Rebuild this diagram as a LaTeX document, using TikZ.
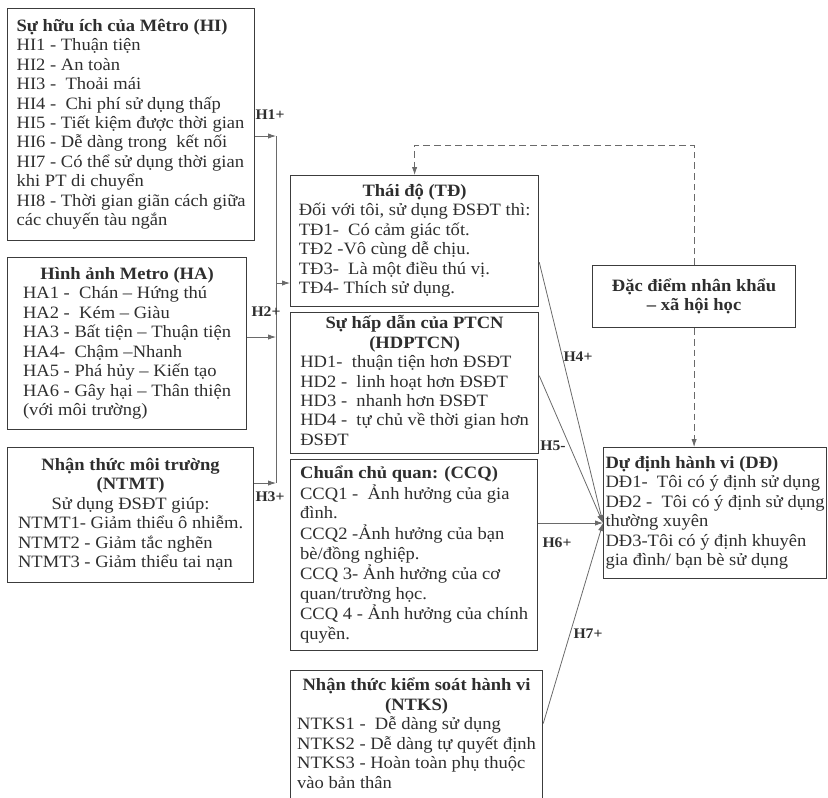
\documentclass[tikz,border=0pt]{standalone}
\usepackage{fontspec}
\setmainfont{Liberation Serif}[FakeStretch=1.07]
\usetikzlibrary{arrows.meta,calc}
\definecolor{scanink}{HTML}{2E2E2E}
\definecolor{scanline}{HTML}{3C3C3C}
\definecolor{scanlink}{HTML}{6A6A6A}
\newcommand{\boxtitle}[1]{\hfill\textbf{#1}\hfill\null}
\newcommand{\boxmid}[1]{\hfill#1\hfill\null}
\tikzset{
  varbox/.style={
    draw=scanline,
    line width=0.9pt,
    anchor=north west,
    inner sep=0pt,
    text=scanink,
    font=\fontsize{13}{14.6}\selectfont
  },
  link/.style={
    draw=scanlink,
    line width=0.6pt
  },
  arrow/.style={
    link,
    -{Latex[length=6pt,width=4pt]}
  },
  dasharrow/.style={
    arrow,
    dash pattern=on 5pt off 3pt
  },
  hlabel/.style={
    text=scanink,
    font=\bfseries\fontsize{11}{13}\selectfont
  }
}

\begin{document}
\begin{tikzpicture}[x=0.75pt,y=-0.75pt]
\useasboundingbox (0,0) rectangle (828,797);
% left column
\node[varbox, minimum width=185.25pt, minimum height=174pt] (hi) at (7,8) {\begin{tabular}{@{}l@{}}
\textbf{Sự hữu ích của Mêtro (HI)}\\
HI1 - Thuận tiện\\
HI2 - An toàn\\
HI3 -\ \ Thoải mái\\
HI4 -\ \ Chi phí sử dụng thấp\\
HI5 - Tiết kiệm được thời gian\\
HI6 - Dễ dàng trong\ \ kết nối\\
HI7 - Có thể sử dụng thời gian\\
khi PT di chuyển\\
HI8 - Thời gian giãn cách giữa\\
các chuyến tàu ngắn
\end{tabular}};
\node[varbox, minimum width=179.25pt, minimum height=129pt] (ha) at (7,257) {\begin{tabular}{@{}l@{}}
\boxtitle{Hình ảnh Metro (HA)}\\
HA1 -\ \ Chán – Hứng thú\\
HA2 -\ \ Kém – Giàu\\
HA3 - Bất tiện – Thuận tiện\\
HA4-\ \ Chậm –Nhanh\\
HA5 - Phá hủy – Kiến tạo\\
HA6 - Gây hại – Thân thiện\\
(với môi trường)
\end{tabular}};
\node[varbox, minimum width=184.5pt, minimum height=101.25pt] (ntmt) at (7,447) {\begin{tabular}{@{}l@{}}
\boxtitle{Nhận thức môi trường}\\
\boxtitle{(NTMT)}\\
\boxmid{Sử dụng ĐSĐT giúp:}\\
NTMT1- Giảm thiểu ô nhiễm.\\
NTMT2 - Giảm tắc nghẽn\\
NTMT3 - Giảm thiểu tai nạn
\end{tabular}};
% middle column
\node[varbox, minimum width=186pt, minimum height=98.25pt] (td) at (290,175) {\begin{tabular}{@{}l@{}}
\boxtitle{Thái độ (TĐ)}\\
Đối với tôi, sử dụng ĐSĐT thì:\\
TĐ1-\ \ Có cảm giác tốt.\\
TĐ2 -Vô cùng dễ chịu.\\
TĐ3-\ \ Là một điều thú vị.\\
TĐ4- Thích sử dụng.
\end{tabular}};
\node[varbox, minimum width=186pt, minimum height=105.75pt] (hdptcn) at (290,312) {\begin{tabular}{@{}l@{}}
\boxtitle{Sự hấp dẫn của PTCN}\\
\boxtitle{(HDPTCN)}\\
HD1-\ \ thuận tiện hơn ĐSĐT\\
HD2 -\ \ linh hoạt hơn ĐSĐT\\
HD3 -\ \ nhanh hơn ĐSĐT\\
HD4 -\ \ tự chủ về thời gian hơn\\
ĐSĐT
\end{tabular}};
\node[varbox, minimum width=185.25pt, minimum height=143.25pt] (ccq) at (290,459) {\begin{tabular}{@{}l@{}}
\textbf{Chuẩn chủ quan: (CCQ)}\\
CCQ1 -\ \ Ảnh hưởng của gia\\
đình.\\
CCQ2 -Ảnh hưởng của bạn\\
bè/đồng nghiệp.\\
CCQ 3- Ảnh hưởng của cơ\\
quan/trường học.\\
CCQ 4 - Ảnh hưởng của chính\\
quyền.
\end{tabular}};
\node[varbox, minimum width=189pt, minimum height=97.5pt] (ntks) at (290,670) {\begin{tabular}{@{}l@{}}
\boxtitle{Nhận thức kiểm soát hành vi}\\
\boxtitle{(NTKS)}\\
NTKS1 -\ \ Dễ dàng sử dụng\\
NTKS2 - Dễ dàng tự quyết định\\
NTKS3 - Hoàn toàn phụ thuộc\\
vào bản thân
\end{tabular}};
% right column
\node[varbox, minimum width=152.25pt, minimum height=46.5pt, align=center, font=\bfseries\fontsize{13}{14.6}\selectfont] (dem) at (592,265) {Đặc điểm nhân khẩu\\– xã hội học};
\node[varbox, minimum width=167.25pt, minimum height=98.25pt] (dd) at (603,447) {\begin{tabular}{@{}l@{}}
\textbf{Dự định hành vi (DĐ)}\\
DĐ1-\ \ Tôi có ý định sử dụng\\
DĐ2 -\ \ Tôi có ý định sử dụng\\
thường xuyên\\
DĐ3-Tôi có ý định khuyên\\
gia đình/ bạn bè sử dụng
\end{tabular}};
% collecting line into Thai do
\coordinate (bushi) at (276,136);
\coordinate (busha) at (276,337);
\coordinate (busnt) at (276,483);
\coordinate (bustd) at (276,283);
\draw[arrow] (hi.east |- bushi) -- (bushi);
\draw[arrow] (ha.east |- busha) -- (busha);
\draw[arrow] (ntmt.east |- busnt) -- (busnt);
\draw[link] (bushi) -- (busnt);
\draw[arrow] (bustd) -- (td.west |- bustd);
% paths into Du dinh
\coordinate (ddin) at (dd.west |- 0,523);
\draw[arrow] ([yshift=-15.75pt]td.east) -- (ddin);
\draw[arrow] ([yshift=5.6pt]hdptcn.east) -- (ddin);
\draw[arrow] (ccq.east |- ddin) -- (ddin);
\draw[arrow] ([yshift=9pt]ntks.east) -- (ddin);
\draw[dasharrow] (dem.north) -- ++(0,-120) -| (td.north);
\draw[dasharrow] (dem.south) -- (dem.south |- dd.north);
% labels
\node[hlabel] (lh1) at (270,115) {H1+};
\node[hlabel] (lh2) at (266,312) {H2+};
\node[hlabel] (lh3) at (270,497) {H3+};
\node[hlabel] (lh4) at (578,357) {H4+};
\node[hlabel] (lh5) at (553,446) {H5-};
\node[hlabel] (lh6) at (557,543) {H6+};
\node[hlabel] (lh7) at (588,634) {H7+};
\end{tikzpicture}
\end{document}
